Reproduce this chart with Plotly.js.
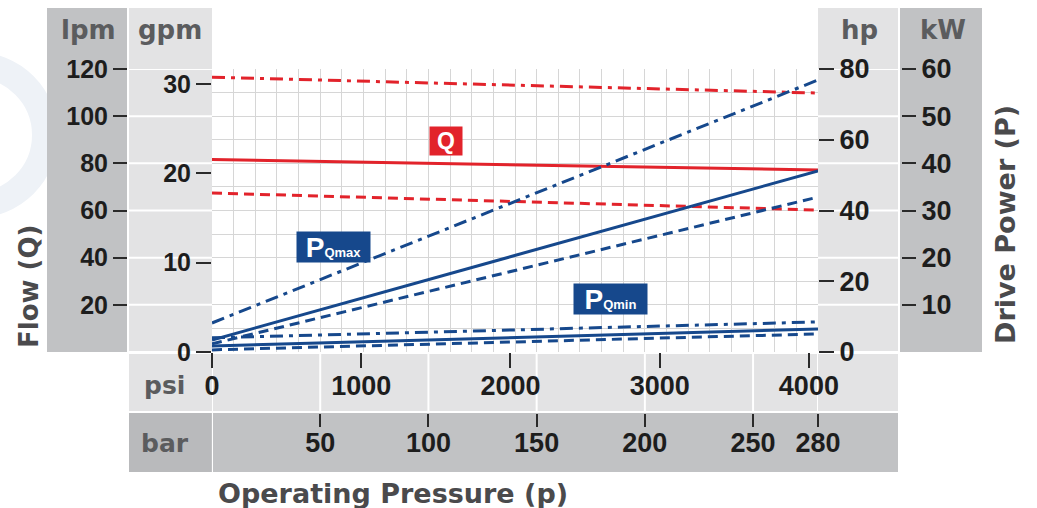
<!DOCTYPE html>
<html>
<head>
<meta charset="utf-8">
<script src="https://cdn.plot.ly/plotly-3.0.1.min.js"></script>
<style>html,body{margin:0;padding:0;background:#fff;}#chart{width:1037px;height:508px;}</style>
</head>
<body>
<div id="chart"></div>
<script>
// ---- data ----
const pressureBar = [0, 280];
const flowMaxLpm = [116.5, 109.8];
const flowNomLpm = [81.6, 77.2];
const flowMinLpm = [67.4, 60.2];
const powerQmaxHighHp = [8.2, 76.9];
const powerQmaxNomHp = [3.4, 51.2];
const powerQmaxLowHp = [2.3, 43.8];
const powerQminHighHp = [4.0, 8.5];
const powerQminNomHp = [1.7, 6.5];
const powerQminLowHp = [0.6, 5.1];

const psiTicks = [0, 1000, 2000, 3000, 4000];
const barTicks = [50, 100, 150, 200, 250, 280];
const lpmTicks = [20, 40, 60, 80, 100, 120];
const gpmTicks = [0, 10, 20, 30];
const hpTicks = [0, 20, 40, 60, 80];
const kwTicks = [10, 20, 30, 40, 50, 60];
const panelLineLpm = [0, 20, 40, 60, 80, 100, 120];
const panelLineBar = [0, 50, 100, 150, 200, 250, 280];

// ---- layout helpers (pixel -> paper) ----
const L = 47, R = 982, T = 8, B = 472;
const W = R - L, H = B - T;
const px = x => (x - L) / W;
const py = y => (B - y) / H;

const RED = '#e2232b', BLUE = '#16488c';
const NUMFONT = 'Liberation Sans';
const LBLFONT = 'DejaVu Sans';

function line(x, y, yaxis, color, dash) {
  return {x: x, y: y, xaxis: 'x', yaxis: yaxis, type: 'scatter', mode: 'lines',
    line: {color: color, width: 3, dash: dash}, hoverinfo: 'skip', showlegend: false};
}
const traces = [
  line(pressureBar, flowMaxLpm, 'y', RED, '13px,6px,4px,6px'),
  line(pressureBar, flowNomLpm, 'y', RED, 'solid'),
  line(pressureBar, flowMinLpm, 'y', RED, '10px,6px'),
  line(pressureBar, powerQmaxHighHp, 'y4', BLUE, '13px,6px,4px,6px'),
  line(pressureBar, powerQmaxNomHp, 'y4', BLUE, 'solid'),
  line(pressureBar, powerQmaxLowHp, 'y4', BLUE, '10px,6px'),
  line(pressureBar, powerQminHighHp, 'y4', BLUE, '13px,6px,4px,6px'),
  line(pressureBar, powerQminNomHp, 'y4', BLUE, 'solid'),
  line(pressureBar, powerQminLowHp, 'y4', BLUE, '10px,6px')
];

const tf = size => ({family: NUMFONT, size: size, color: '#1d1d1d', weight: 'bold'});
const xDom = [px(212), px(818)];
const yDom = [py(352), py(69)];

function rect(x0, y0, x1, y1, color) {
  return {type: 'rect', xref: 'paper', yref: 'paper', x0: px(x0), x1: px(x1), y0: py(y1), y1: py(y0),
    fillcolor: color, line: {width: 0}, layer: 'below'};
}
const LIGHT = '#e3e3e4', DARK = '#c1c2c4';
const shapes = [
  {type: 'circle', xref: 'paper', yref: 'paper', x0: px(-95), x1: px(45), y0: py(205), y1: py(65),
    fillcolor: 'rgba(0,0,0,0)', line: {color: '#eef2f7', width: 26}, layer: 'below'},
  rect(47, 8, 127, 352, DARK),
  rect(129, 8, 212, 352, LIGHT),
  rect(129, 354, 898, 411, LIGHT),
  rect(818, 8, 898, 352, LIGHT),
  rect(900, 8, 982, 352, DARK),
  rect(129, 413, 898, 472, DARK),
  rect(129, 413, 211, 472, '#b9babc')
];
panelLineLpm.forEach(v => {
  shapes.push({type: 'line', xref: 'paper', yref: 'y', x0: px(129), x1: px(212), y0: v, y1: v,
    line: {color: '#ffffff', width: 2}, layer: 'below'});
  shapes.push({type: 'line', xref: 'paper', yref: 'y', x0: px(818), x1: px(898), y0: v, y1: v,
    line: {color: '#ffffff', width: 2}, layer: 'below'});
});
panelLineBar.forEach(v => {
  shapes.push({type: 'line', xref: 'x', yref: 'paper', x0: v, x1: v, y0: py(411), y1: py(353),
    line: {color: '#ffffff', width: 2}, layer: 'below'});
});
shapes.push({type: 'line', xref: 'x', yref: 'paper', x0: 0, x1: 0, y0: py(472), y1: py(413),
  line: {color: '#ffffff', width: 2}, layer: 'below'});

function ann(x, y, text, size, color, extra) {
  return Object.assign({xref: 'paper', yref: 'paper', x: px(x), y: py(y), text: text, showarrow: false,
    xanchor: 'center', yanchor: 'middle', font: {family: LBLFONT, size: size, color: color, weight: 'bold'}}, extra || {});
}
const annotations = [
  ann(88, 30, 'lpm', 26, '#5b5c5e'),
  ann(170, 30, 'gpm', 26, '#5b5c5e'),
  ann(859, 30, 'hp', 26, '#5b5c5e'),
  ann(943, 30, 'kW', 26, '#5b5c5e'),
  ann(164, 385, 'psi', 25, '#5b5c5e'),
  ann(165, 443, 'bar', 25, '#5b5c5e'),
  ann(29, 287, 'Flow (Q)', 26, '#4a4a4c', {textangle: -90}),
  ann(1005, 225, 'Drive Power (P)', 27, '#4a4a4c', {textangle: -90}),
  ann(393, 493, 'Operating Pressure (p)', 27, '#4a4a4c'),
  {xref: 'x', yref: 'y', x: 108, y: 89.5, text: 'Q', showarrow: false, bgcolor: RED,
    width: 30, height: 26, borderpad: 1, font: {family: NUMFONT, size: 23, color: '#ffffff', weight: 'bold'}},
  {xref: 'x', yref: 'y', x: 56, y: 44.5, text: "P<span style='font-size:13px'>Qmax</span>", showarrow: false, bgcolor: BLUE,
    width: 71, height: 28, borderpad: 1, font: {family: NUMFONT, size: 28, color: '#ffffff', weight: 'bold'}},
  {xref: 'x', yref: 'y', x: 184, y: 22.5, text: "P<span style='font-size:13px'>Qmin</span>", showarrow: false, bgcolor: BLUE,
    width: 71, height: 28, borderpad: 1, font: {family: NUMFONT, size: 28, color: '#ffffff', weight: 'bold'}}
];

const common = {showgrid: false, zeroline: false, showline: false, ticks: 'outside', tickwidth: 2,
  tickcolor: '#2a2a2a', tickmode: 'array', fixedrange: true};

const layout = {
  width: 1037, height: 508, autosize: false,
  margin: {l: L, r: 1037 - R, t: T, b: 508 - B, pad: 0},
  paper_bgcolor: '#ffffff', plot_bgcolor: 'rgba(0,0,0,0)',
  showlegend: false,
  xaxis: {domain: xDom, range: [0, 280], dtick: 10, tick0: 0, showgrid: true, gridcolor: '#d6d6d6', gridwidth: 1,
    showticklabels: false, ticks: '', zeroline: false, showline: false, anchor: 'y', fixedrange: true},
  yaxis: {domain: yDom, range: [0, 120], dtick: 10, tick0: 0, showgrid: true, gridcolor: '#d6d6d6', gridwidth: 1,
    showticklabels: false, ticks: '', zeroline: false, showline: false, anchor: 'x', fixedrange: true},
  xaxis2: Object.assign({}, common, {domain: xDom, overlaying: 'x', anchor: 'free', position: py(352), side: 'bottom',
    range: [0, 280 * 14.5038], tickvals: psiTicks, ticklen: 15, ticklabelstandoff: -5, tickfont: tf(27)}),
  xaxis3: Object.assign({}, common, {domain: xDom, overlaying: 'x', anchor: 'free', position: py(413), side: 'bottom',
    range: [0, 280], tickvals: barTicks, ticklen: 13, ticklabelstandoff: -7, tickfont: tf(27)}),
  yaxis2: Object.assign({}, common, {domain: yDom, overlaying: 'y', anchor: 'free', position: px(127), side: 'left',
    range: [0, 120], tickvals: lpmTicks, ticklen: 14, tickfont: tf(25)}),
  yaxis3: Object.assign({}, common, {domain: yDom, overlaying: 'y', anchor: 'free', position: px(211), side: 'left',
    range: [0, 120 / 3.78541], tickvals: gpmTicks, ticklen: 15, tickfont: tf(25)}),
  yaxis4: Object.assign({}, common, {domain: yDom, overlaying: 'y', anchor: 'free', position: px(818), side: 'right',
    range: [0, 80], tickvals: hpTicks, ticklen: 15, tickfont: tf(27)}),
  yaxis5: Object.assign({}, common, {domain: yDom, overlaying: 'y', anchor: 'free', position: px(901), side: 'right',
    range: [0, 60], tickvals: kwTicks, ticklen: 14, tickfont: tf(27)}),
  shapes: shapes,
  annotations: annotations
};

const axisHolders = [
  {x: [0], y: [0], xaxis: 'x2', yaxis: 'y', mode: 'markers', marker: {opacity: 0}, hoverinfo: 'skip', showlegend: false},
  {x: [0], y: [0], xaxis: 'x3', yaxis: 'y', mode: 'markers', marker: {opacity: 0}, hoverinfo: 'skip', showlegend: false},
  {x: [0], y: [0], xaxis: 'x', yaxis: 'y2', mode: 'markers', marker: {opacity: 0}, hoverinfo: 'skip', showlegend: false},
  {x: [0], y: [0], xaxis: 'x', yaxis: 'y3', mode: 'markers', marker: {opacity: 0}, hoverinfo: 'skip', showlegend: false},
  {x: [0], y: [0], xaxis: 'x', yaxis: 'y5', mode: 'markers', marker: {opacity: 0}, hoverinfo: 'skip', showlegend: false}
];

Plotly.newPlot('chart', traces.concat(axisHolders), layout, {displayModeBar: false, staticPlot: true});
</script>
</body>
</html>
